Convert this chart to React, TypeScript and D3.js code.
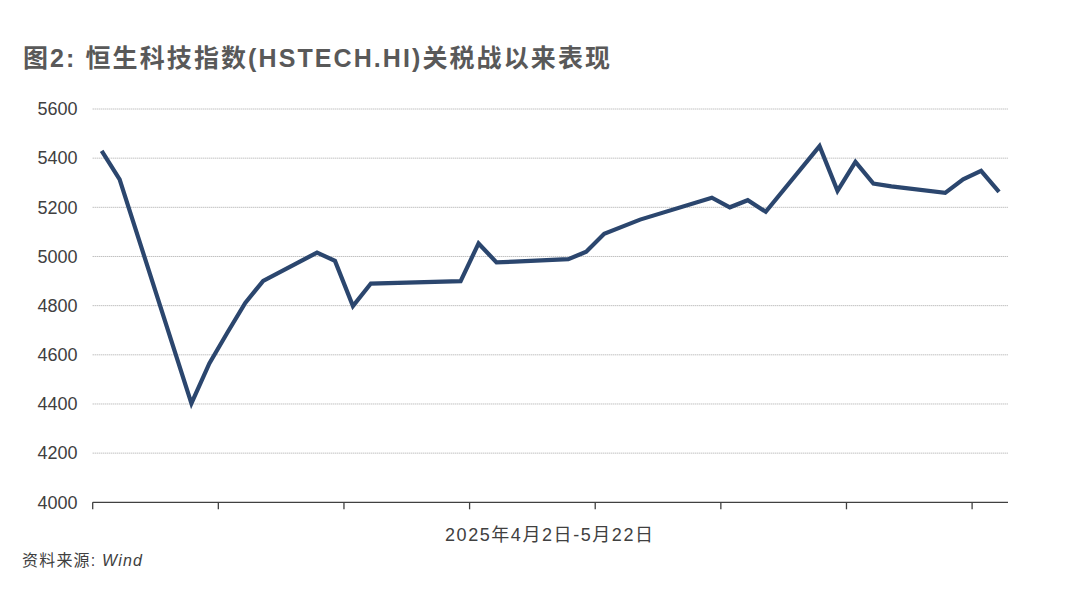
import React, { useEffect, useRef } from 'react';
import * as d3 from 'd3';

const dates = [
  '2025-04-02', '2025-04-03', '2025-04-07', '2025-04-08', '2025-04-09', '2025-04-10', '2025-04-11',
  '2025-04-14', '2025-04-15', '2025-04-16', '2025-04-17', '2025-04-22', '2025-04-23', '2025-04-24',
  '2025-04-25', '2025-04-28', '2025-04-29', '2025-04-30', '2025-05-02', '2025-05-06', '2025-05-07',
  '2025-05-08', '2025-05-09', '2025-05-12', '2025-05-13', '2025-05-14', '2025-05-15', '2025-05-16',
  '2025-05-19', '2025-05-20', '2025-05-21', '2025-05-22',
];
const values = [
  5430, 5314, 4402, 4565, 4690, 4811, 4901,
  5016, 4982, 4798, 4890, 4900, 5053, 4976,
  4979, 4989, 5019, 5092, 5150, 5239, 5200,
  5229, 5182, 5449, 5267, 5385, 5297, 5285,
  5259, 5314, 5348, 5263,
];
const yTicks = [4000, 4200, 4400, 4600, 4800, 5000, 5200, 5400, 5600];

const title = '图2: 恒生科技指数(HSTECH.HI)关税战以来表现';
const xLabel = '2025年4月2日-5月22日';
const sourceLabel = '资料来源: ';
const sourceName = 'Wind';

const FONT = '"Helvetica Neue", Arial, "Liberation Sans", "Noto Sans CJK SC", sans-serif';

export default function App() {
  const ref = useRef<SVGSVGElement>(null);

  useEffect(() => {
    if (!ref.current) return;
    const svg = d3.select(ref.current);
    svg.selectAll('*').remove();

    const left = 92.7;
    const right = 1008;
    const top = 109;
    const bottom = 502.3;

    const parse = d3.utcParse('%Y-%m-%d');
    const start = parse(dates[0]) as Date;
    const end = d3.utcDay.offset(parse(dates[dates.length - 1]) as Date, 1);

    const x = d3.scaleUtc().domain([start, end]).range([left, right]);
    const y = d3.scaleLinear().domain([4000, 5600]).range([bottom, top]);

    // title
    svg
      .append('text')
      .attr('x', 23)
      .attr('y', 67)
      .attr('textLength', 587)
      .attr('lengthAdjust', 'spacing')
      .text(title)
      .style('font-family', FONT)
      .style('font-weight', 'bold')
      .style('font-size', '25px')
      .style('fill', '#595959');

    // grid
    svg
      .append('g')
      .selectAll('line')
      .data(yTicks.slice(1))
      .enter()
      .append('line')
      .attr('x1', left)
      .attr('x2', right)
      .attr('y1', (d) => y(d))
      .attr('y2', (d) => y(d))
      .attr('stroke', '#a6a6a6')
      .attr('stroke-width', 1)
      .attr('stroke-dasharray', '1,1');

    // y labels
    svg
      .append('g')
      .selectAll('text')
      .data(yTicks)
      .enter()
      .append('text')
      .attr('x', 77.5)
      .attr('y', (d) => y(d) + 6.3)
      .attr('text-anchor', 'end')
      .text((d) => d)
      .style('font-family', FONT)
      .style('font-size', '18px')
      .style('fill', '#404040');

    // x axis
    const weekTicks = d3.utcDay.range(start, end, 7);
    const axis = svg.append('g');
    axis
      .append('line')
      .attr('x1', left)
      .attr('x2', right)
      .attr('y1', bottom)
      .attr('y2', bottom)
      .attr('stroke', '#404040')
      .attr('stroke-width', 1.3);
    axis
      .selectAll('.tick')
      .data(weekTicks)
      .enter()
      .append('line')
      .attr('x1', (d) => x(d))
      .attr('x2', (d) => x(d))
      .attr('y1', bottom)
      .attr('y2', bottom + 7)
      .attr('stroke', '#404040')
      .attr('stroke-width', 1.3);

    svg
      .append('text')
      .attr('x', 445)
      .attr('y', 540.5)
      .attr('textLength', 208)
      .attr('lengthAdjust', 'spacing')
      .text(xLabel)
      .style('font-family', FONT)
      .style('font-size', '18px')
      .style('fill', '#404040');

    // source
    const src = svg
      .append('text')
      .attr('x', 22)
      .attr('y', 566)
      .attr('textLength', 120)
      .attr('lengthAdjust', 'spacing')
      .style('font-family', FONT)
      .style('font-size', '16px')
      .style('fill', '#404040');
    src.append('tspan').text(sourceLabel);
    src.append('tspan').text(sourceName).style('font-style', 'italic');

    // line
    const points = dates.map((d, i) => ({ date: d3.utcHour.offset(parse(d) as Date, 12), value: values[i] }));
    const line = d3
      .line<{ date: Date; value: number }>()
      .x((d) => x(d.date))
      .y((d) => y(d.value));

    svg
      .append('path')
      .datum(points)
      .attr('d', line)
      .attr('fill', 'none')
      .attr('stroke', '#2b466e')
      .attr('stroke-width', 4.2)
      .attr('stroke-linejoin', 'miter')
      .attr('stroke-linecap', 'butt');
  }, []);

  return (
    <svg
      ref={ref}
      width={1080}
      height={606}
      style={{ position: 'absolute', left: 0, top: 0, background: '#fff' }}
    />
  );
}
